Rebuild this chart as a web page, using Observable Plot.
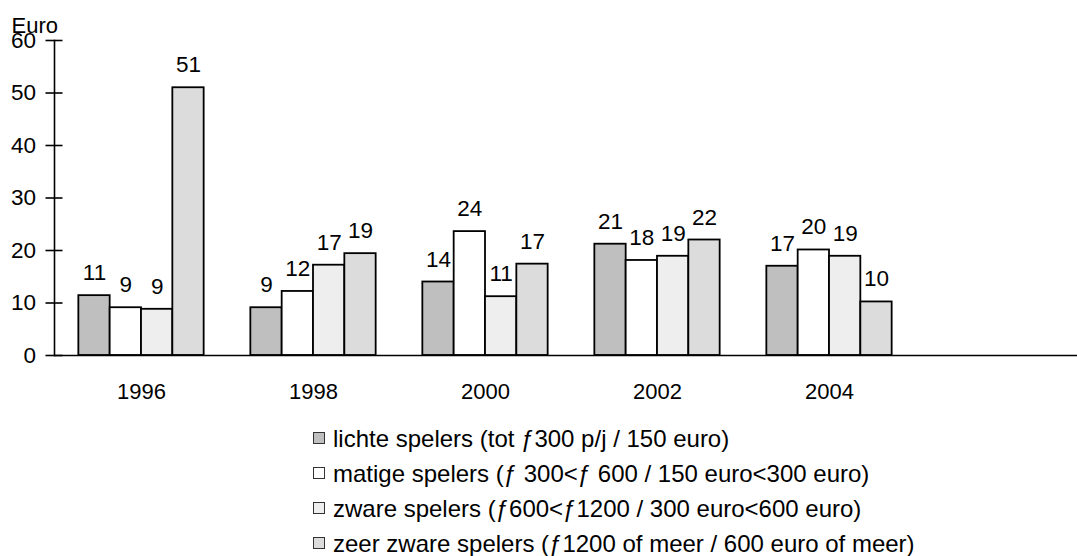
<!DOCTYPE html>
<html>
<head>
<meta charset="utf-8">
<script src="https://cdn.jsdelivr.net/npm/d3@7"></script>
<script src="https://cdn.jsdelivr.net/npm/@observablehq/plot@0.6"></script>
<style>
  html, body { margin: 0; padding: 0; background: #fff; }
  body { width: 1077px; height: 556px; overflow: hidden; font-family: "Liberation Sans", Arial, sans-serif; color: #000; }
  #chart svg { display: block; }
  #legend { padding-left: 312.7px; font-size: 24px; }
  .row { display: flex; align-items: center; height: 34.8px; white-space: nowrap; }
  .sw { width: 10px; height: 10px; border: 1.2px solid #333; margin-right: 8.3px; position: relative; top: -1px; flex: none; }
</style>
</head>
<body>
<div id="chart"></div>
<div id="legend"></div>
<script>
// ---- data ----
const years = ["1996", "1998", "2000", "2002", "2004"];
const lichte    = [11.4,  9.1, 14.0, 21.2, 17.0];
const matige    = [ 9.1, 12.2, 23.6, 18.1, 20.1];
const zware     = [ 8.8, 17.2, 11.2, 18.9, 18.9];
const zeerZware = [51.0, 19.4, 17.4, 22.0, 10.2];
const seriesNames = [
  "lichte spelers (tot \u0192300 p/j / 150 euro)",
  "matige spelers (\u0192 300<\u0192 600 / 150 euro<300 euro)",
  "zware spelers (\u0192600<\u01921200 / 300 euro<600 euro)",
  "zeer zware spelers (\u01921200 of meer / 600 euro of meer)"
];
const yTicks = [0, 10, 20, 30, 40, 50, 60];
const yLabel = "Euro";

// ---- styles ----
const fills = ["#bfbfbf", "#ffffff", "#eeeeee", "#dcdcdc"];
const seriesValues = [lichte, matige, zware, zeerZware];

const step = 172;          // band step in px
const barW = 31.33;        // bar width in px
const groupPad = (step - 4 * barW) / 2;

const marks = [];
seriesValues.forEach((vals, j) => {
  const rows = years.map((year, i) => ({year, value: vals[i]}));
  const insetLeft = groupPad + j * barW;
  const insetRight = step - insetLeft - barW;
  marks.push(Plot.barY(rows, {
    x: "year", y: "value", fill: fills[j], stroke: "#000", strokeWidth: 1.8,
    insetLeft, insetRight
  }));
  marks.push(Plot.text(rows, {
    x: "year", y: "value", text: d => d3.format(".0f")(d.value),
    dx: (j - 1.5) * barW, dy: -15.5, lineAnchor: "bottom", fontSize: 22.5, fill: "#000"
  }));
});

const chart = Plot.plot({
  width: 1077,
  height: 422,
  marginTop: 40,
  marginBottom: 67,
  marginLeft: 54,
  marginRight: 0,
  style: {fontFamily: "'Liberation Sans', Arial, sans-serif", fontSize: "22px", color: "#000", background: "#fff"},
  x: {type: "band", domain: years, range: [55.3, 55.3 + step * years.length], padding: 0, axis: null},
  y: {domain: [0, 60], axis: null},
  marks: [
    ...marks,
    Plot.ruleY([0], {stroke: "#000", strokeWidth: 1.6}),
    Plot.frame({anchor: "left", stroke: "#000", strokeWidth: 1.6}),
    Plot.axisY(yTicks, {anchor: "left", tickSize: 8.5, tickPadding: 10, fontSize: 22.5, strokeWidth: 1.6, label: null}),
    Plot.axisY(yTicks, {anchor: "left", tickSize: 8.5, dx: 8.5, tickFormat: () => "", strokeWidth: 1.6, label: null}),
    Plot.axisX(years, {anchor: "bottom", tickSize: 0, tickPadding: 28, fontSize: 22, label: null}),
    Plot.text([yLabel], {frameAnchor: "top-left", dx: -43, dy: -8, textAnchor: "start", lineAnchor: "bottom", fontSize: 22, fill: "#000"})
  ]
});
document.getElementById("chart").appendChild(chart);

const legend = document.getElementById("legend");
seriesNames.forEach((name, j) => {
  const row = document.createElement("div");
  row.className = "row";
  const sw = document.createElement("span");
  sw.className = "sw";
  sw.style.background = fills[j];
  const t = document.createElement("span");
  t.textContent = name;
  row.appendChild(sw);
  row.appendChild(t);
  legend.appendChild(row);
});
</script>
</body>
</html>
